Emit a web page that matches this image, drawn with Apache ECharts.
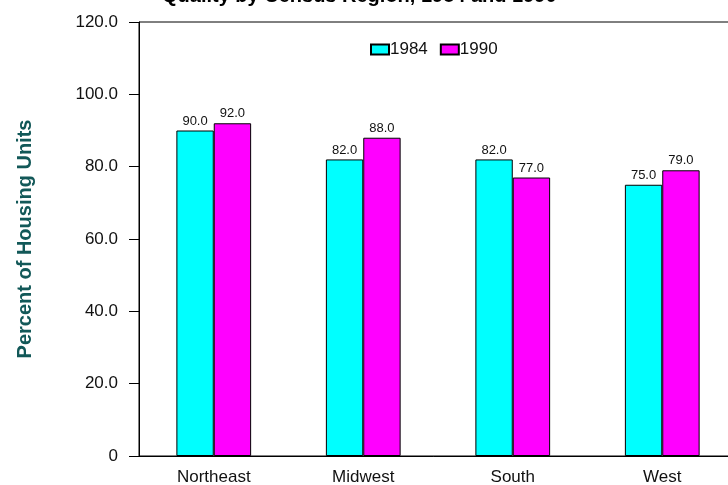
<!DOCTYPE html>
<html>
<head>
<meta charset="utf-8">
<script src="https://cdn.jsdelivr.net/npm/echarts@6/dist/echarts.min.js"></script>
<style>
  html, body { margin: 0; padding: 0; background: #fff; }
  #chart { width: 728px; height: 485px; }
</style>
</head>
<body>
<div id="chart"></div>
<script>
// data
const regions = ['Northeast', 'Midwest', 'South', 'West']
const values1984 = [90.0, 82.0, 82.0, 75.0]
const values1990 = [92.0, 88.0, 77.0, 79.0]
const yTicks = [0, 20, 40, 60, 80, 100, 120]

const myChart = echarts.init(document.getElementById('chart'))

const font = 'Arial, Liberation Sans'

const barLabel = {
    show: true,
    position: 'top',
    distance: 3,
    fontFamily: font,
    fontSize: 13,
    color: '#111',
    formatter: p => p.value.toFixed(1)
}

const option = {
    animation: false,
    title: {
        // only the bottom of the title line is visible in the original
        text: 'Quality by Census Region, 1984 and 1990',
        left: 157,
        top: -19,
        textStyle: {
            fontFamily: font,
            fontSize: 20,
            fontWeight: 'bold',
            color: '#000'
        }
    },
    legend: {
        top: 36,
        left: 365,
        itemWidth: 18,
        itemHeight: 10,
        itemGap: 12,
        icon: 'rect',
        textStyle: {
            fontFamily: font,
            fontSize: 17,
            color: '#111',
            padding: [0, 0, 0, -4]
        },
        data: ['1984', '1990']
    },
    grid: {
        left: 139,
        top: 22,
        width: 598,
        height: 434,
        outerBoundsMode: 'none',
        containLabel: false,
        show: true,
        borderColor: '#000',
        borderWidth: 1
    },
    xAxis: {
        type: 'category',
        data: regions,
        axisLine: { lineStyle: { color: '#000' } },
        axisTick: { show: false },
        axisLabel: {
            margin: 13,
            fontFamily: font,
            fontSize: 17,
            color: '#111'
        }
    },
    yAxis: {
        type: 'value',
        min: yTicks[0],
        max: yTicks[yTicks.length - 1],
        interval: 20,
        name: 'Percent of Housing Units',
        nameLocation: 'middle',
        nameGap: 104,
        nameTextStyle: {
            fontFamily: font,
            fontSize: 20,
            fontWeight: 'bold',
            color: '#125858'
        },
        axisLine: { show: true, lineStyle: { color: '#000' } },
        axisTick: { show: true, length: 10, lineStyle: { color: '#000' } },
        splitLine: { show: false },
        axisLabel: {
            margin: 21,
            fontFamily: font,
            fontSize: 17,
            color: '#111',
            formatter: v => v === 0 ? '0' : v.toFixed(1)
        }
    },
    series: [
        {
            name: '1984',
            type: 'bar',
            data: values1984,
            barGap: '0%',
            barCategoryGap: '50%',
            itemStyle: { color: '#00ffff', borderColor: '#000', borderWidth: 1 },
            label: barLabel
        },
        {
            name: '1990',
            type: 'bar',
            data: values1990,
            itemStyle: { color: '#ff00ff', borderColor: '#000', borderWidth: 1 },
            label: barLabel
        }
    ]
}

myChart.setOption(option)
</script>
</body>
</html>
